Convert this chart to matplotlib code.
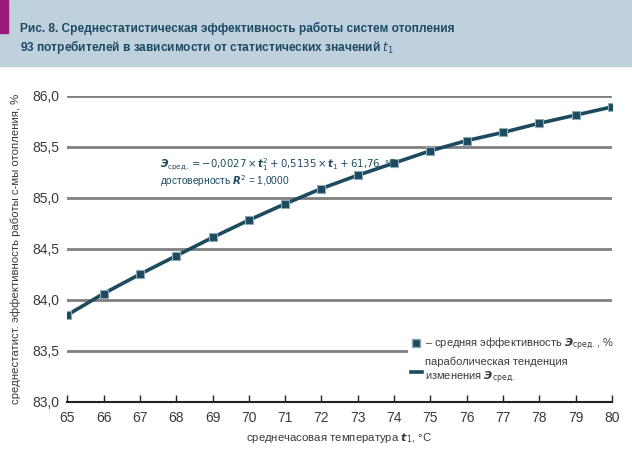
import matplotlib
matplotlib.use('Agg')
import matplotlib.pyplot as plt
from matplotlib.patches import Rectangle
from matplotlib.lines import Line2D

# данные
t1 = [65, 66, 67, 68, 69, 70, 71, 72, 73, 74, 75, 76, 77, 78, 79, 80]
eff = [83.85, 84.06, 84.25, 84.43, 84.61, 84.78, 84.94, 85.09,
       85.22, 85.34, 85.46, 85.56, 85.64, 85.73, 85.81, 85.89]
yticks = [83.0, 83.5, 84.0, 84.5, 85.0, 85.5, 86.0]
ytick_labels = ['83,0', '83,5', '84,0', '84,5', '85,0', '85,5', '86,0']

plt.rcParams['font.family'] = ['Liberation Sans Narrow', 'Liberation Sans', 'DejaVu Sans']
plt.rcParams['mathtext.fontset'] = 'custom'
plt.rcParams['mathtext.rm'] = 'Liberation Sans Narrow'
plt.rcParams['mathtext.it'] = 'Liberation Sans Narrow:italic'
plt.rcParams['mathtext.bf'] = 'Liberation Sans Narrow:bold'
plt.rcParams['mathtext.bfit'] = 'Liberation Sans Narrow:bold:italic'

teal = '#1c4a5e'
gray_txt = '#3a3a3a'

fig = plt.figure(figsize=(6.32, 4.55), dpi=100)

# шапка
fig.patches.append(Rectangle((0, 1 - 66 / 455), 1, 66 / 455, transform=fig.transFigure,
                             color='#bfd1dd', zorder=0))
fig.patches.append(Rectangle((0, 1 - 33 / 455), 8 / 632, 33 / 455, transform=fig.transFigure,
                             color='#9a1a78', zorder=1))
fig.text(20 / 632, 1 - 28 / 455, 'Рис. 8. Среднестатистическая эффективность работы систем отопления',
         fontsize=8.6, fontweight='bold', color='#1d4a62', va='center')
fig.text(20 / 632, 1 - 47 / 455, '93 потребителей в зависимости от статистических значений $\\mathit{t}_1$',
         fontsize=8.6, fontweight='bold', color='#1d4a62', va='center')

ax = fig.add_axes([67.3 / 632, 1 - 401.7 / 455, (612 - 67.3) / 632, (401.7 - 95.7) / 455])
ax.set_xlim(65, 80)
ax.set_ylim(83, 86)

for y in yticks[1:]:
    ax.axhline(y, color='#808080', lw=2, zorder=1)

ax.plot(t1, eff, color=teal, lw=2.6, zorder=3)
ax.plot(t1, eff, ls='none', marker='s', ms=6, mfc=teal, mec='#8fa9b6', mew=0.8, zorder=4)

for s in ['top', 'right', 'left']:
    ax.spines[s].set_visible(False)
ax.spines['bottom'].set_color('#222222')
ax.spines['bottom'].set_linewidth(1.5)

ax.set_xticks(t1)
ax.set_xticklabels([str(v) for v in t1])
ax.set_yticks(yticks)
ax.set_yticklabels(ytick_labels)
ax.tick_params(axis='x', direction='in', length=5, width=1, color='#222222',
               labelsize=10, labelcolor=gray_txt, pad=7)
ax.tick_params(axis='y', length=0, labelsize=10, labelcolor=gray_txt, pad=6)

ax.set_xlabel('среднечасовая температура $\\mathbfit{t}_1$, °C', fontsize=8.2,
              color=gray_txt, labelpad=4)
ax.set_ylabel('среднестатист. эффективность работы с-мы отопления, %', fontsize=8.2,
              color=gray_txt, labelpad=8)

ax.text(67.55, 85.32,
        '$\\mathbfit{Э}_{\\mathrm{сред.}} = -0{,}0027\\times \\mathbfit{t}_1^2 + 0{,}5135\\times \\mathbfit{t}_1 + 61{,}76$, °С',
        fontsize=7.3, color=teal, ha='left', va='center', zorder=5)
ax.text(67.55, 85.16, 'достоверность $\\mathbfit{R}^2$ = 1,0000',
        fontsize=7.3, color=teal, ha='left', va='center', zorder=5)

h1 = Line2D([], [], ls='none', marker='s', ms=6, mfc=teal, mec='#8fa9b6')
h2 = Line2D([], [], color=teal, lw=2.6)
leg = ax.legend([h1, h2],
                ['– средняя эффективность $\\mathbfit{Э}_{\\mathrm{сред.}}$, %',
                 'параболическая тенденция\nизменения $\\mathbfit{Э}_{\\mathrm{сред.}}$'],
                loc='upper left', bbox_to_anchor=(0.625, 0.225), frameon=True, fontsize=8,
                handlelength=1.0, handletextpad=0.3, labelspacing=0.35, labelcolor=gray_txt,
                borderpad=0.25, borderaxespad=0, fancybox=False)
leg.get_frame().set_facecolor('white')
leg.get_frame().set_edgecolor('none')
leg.get_frame().set_alpha(1)
leg.set_zorder(6)

fig.savefig('out.png', dpi=100, facecolor='white')
